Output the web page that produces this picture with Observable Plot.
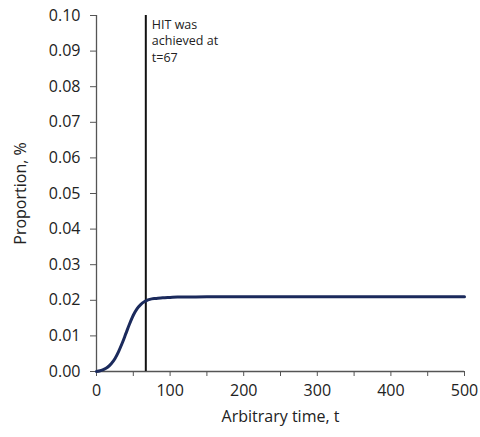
<!DOCTYPE html>
<html>
<head>
<meta charset="utf-8">
<script src="https://cdn.jsdelivr.net/npm/d3@7"></script>
<script src="https://cdn.jsdelivr.net/npm/@observablehq/plot@0.6"></script>
<style>
  html, body { margin: 0; padding: 0; background: #fff; }
</style>
</head>
<body>
<div id="chart"></div>
<script>
// Data
const times = [0, 5, 10, 15, 20, 25, 30, 35, 40, 45, 50, 55, 60, 65, 67, 70, 75, 80, 90, 100, 110, 120, 150, 200, 300, 400, 500];
const proportion = [0, 0.0002, 0.0006, 0.0012, 0.0022, 0.0036, 0.0056, 0.0080, 0.0107, 0.0134, 0.0158, 0.0176, 0.0188, 0.0196, 0.0198, 0.0201, 0.0204, 0.0205, 0.0207, 0.0208, 0.0209, 0.0209, 0.021, 0.021, 0.021, 0.021, 0.021];
const hitTime = [67];
const hitNote = ["HIT was\nachieved at\nt=67"];
const xTicks = [0, 50, 100, 150, 200, 250, 300, 350, 400, 450, 500];
const yTicks = [0, 0.01, 0.02, 0.03, 0.04, 0.05, 0.06, 0.07, 0.08, 0.09, 0.10];

const data = times.map((t, i) => ({t, p: proportion[i]}));

const chart = Plot.plot({
  width: 480,
  height: 437,
  marginLeft: 96,
  marginRight: 16,
  marginTop: 15,
  marginBottom: 66,
  style: {fontFamily: "'Open Sans', sans-serif", fontSize: "16px", color: "#222", background: "#fff"},
  x: {domain: [0, 500]},
  y: {domain: [0, 0.10]},
  marks: [
    Plot.axisY({ticks: yTicks, tickFormat: d3.format(".2f"), tickSize: 6, tickPadding: 10, stroke: "#555", fill: "#222",
      label: "Proportion, %", labelAnchor: "center", labelArrow: "none", labelOffset: 82, fontSize: 16}),
    Plot.axisX({ticks: xTicks, tickFormat: d => d % 100 === 0 ? d : "", tickSize: 5, tickPadding: 8, stroke: "#555", fill: "#222",
      label: "Arbitrary time, t", labelAnchor: "center", labelArrow: "none", labelOffset: 50, fontSize: 16}),
    Plot.ruleX([0], {stroke: "#555", strokeWidth: 1.3}),
    Plot.ruleY([0], {stroke: "#555", strokeWidth: 1.3}),
    Plot.ruleX(hitTime, {stroke: "#111", strokeWidth: 2}),
    Plot.line(data, {x: "t", y: "p", stroke: "#1b2a5c", strokeWidth: 3, curve: "monotone-x"}),
    Plot.text(hitNote, {x: hitTime, y: 0.10, dx: 6, dy: 2, textAnchor: "start", lineAnchor: "top",
      lineHeight: 1.3, fontSize: 12.5, fill: "#222"})
  ]
});
document.getElementById("chart").appendChild(chart);
</script>
</body>
</html>
